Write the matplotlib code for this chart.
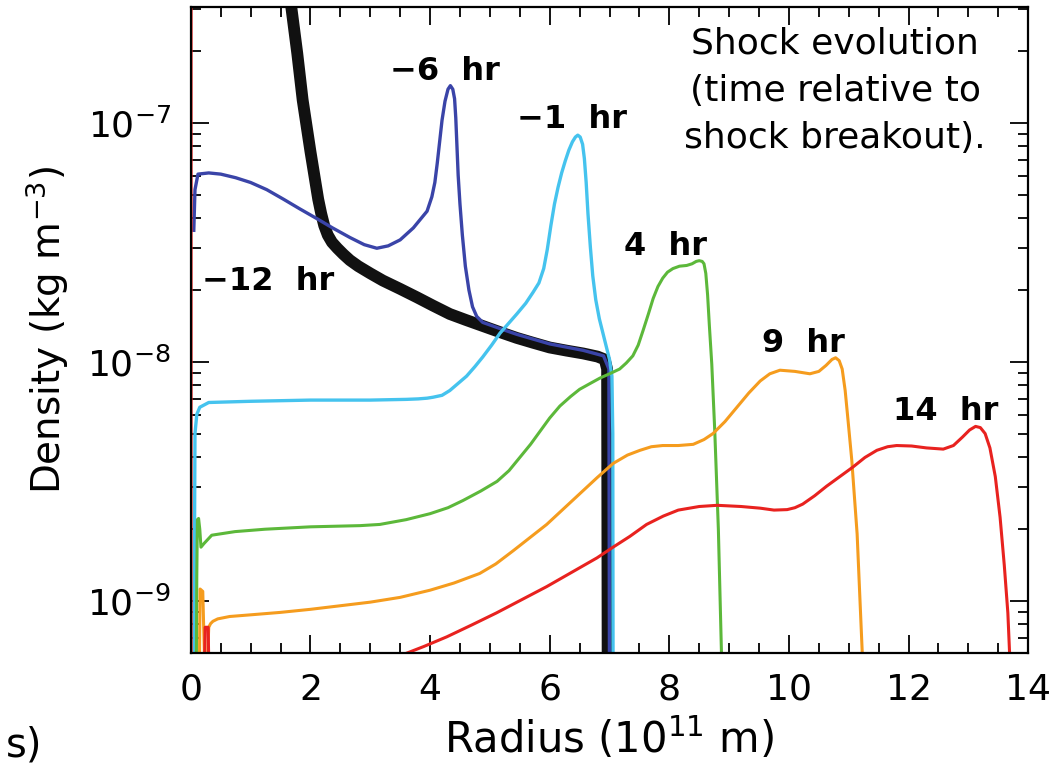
import numpy as np
import matplotlib
matplotlib.use("Agg")
import matplotlib.pyplot as plt
from matplotlib.ticker import FixedLocator, MultipleLocator, NullFormatter, LogFormatterSciNotation

plt.rcParams['font.family'] = ['DejaVu Sans']
plt.rcParams['mathtext.fontset'] = 'dejavusans'

# radius in 1e11 m, density as log10(kg m^-3)
r_m12 = [1.60, 1.68, 1.78, 1.87, 2.00, 2.13, 2.18, 2.23, 2.29, 2.36, 2.45, 2.55, 2.66,
         2.80, 3.00, 3.21, 3.50, 3.78, 4.05, 4.33, 4.60, 4.88, 5.16, 5.45, 5.72, 6.00,
         6.28, 6.56, 6.80, 6.92, 6.96, 6.97]
lg_m12 = [-6.35, -6.516, -6.71, -6.905, -7.12, -7.32, -7.38, -7.43, -7.47, -7.50, -7.525,
          -7.55, -7.575, -7.60, -7.63, -7.66, -7.695, -7.73, -7.765, -7.80, -7.825, -7.85,
          -7.875, -7.90, -7.92, -7.94, -7.953, -7.965, -7.978, -7.99, -8.03, -9.4]

r_m6 = [0.05, 0.07, 0.12, 0.30, 0.50, 0.75, 1.00, 1.27, 1.55, 1.82, 2.10, 2.37, 2.66,
        2.90, 3.11, 3.30, 3.50, 3.72, 3.95, 4.03, 4.08, 4.12, 4.16, 4.20, 4.25, 4.30,
        4.34, 4.38, 4.41, 4.43, 4.45, 4.47, 4.50, 4.54, 4.59, 4.65, 4.71, 4.78, 4.88,
        5.16, 5.45, 6.00, 6.56, 6.90, 6.99, 7.00]
lg_m6 = [-7.45, -7.28, -7.215, -7.21, -7.215, -7.23, -7.25, -7.28, -7.32, -7.36, -7.40,
         -7.44, -7.48, -7.51, -7.525, -7.515, -7.49, -7.44, -7.37, -7.31, -7.25, -7.17,
         -7.08, -6.99, -6.91, -6.86, -6.845, -6.86, -6.90, -6.98, -7.10, -7.22, -7.34,
         -7.47, -7.60, -7.70, -7.77, -7.81, -7.835, -7.86, -7.885, -7.925, -7.952,
         -7.975, -8.03, -9.4]

r_m1 = [0.05, 0.07, 0.10, 0.15, 0.30, 1.0, 2.0, 3.0, 3.6, 3.8, 3.95, 4.05, 4.20, 4.33,
        4.47, 4.61, 4.75, 4.88, 5.03, 5.17, 5.31, 5.45, 5.60, 5.72, 5.82, 5.90, 5.96,
        6.02, 6.08, 6.14, 6.20, 6.26, 6.32, 6.38, 6.43, 6.47, 6.51, 6.55, 6.58, 6.61,
        6.64, 6.68, 6.72, 6.77, 6.83, 6.89, 6.95, 7.00, 7.04, 7.055, 7.06]
lg_m1 = [-9.4, -8.30, -8.22, -8.19, -8.17, -8.165, -8.16, -8.16, -8.157, -8.155, -8.152,
         -8.148, -8.14, -8.12, -8.09, -8.06, -8.02, -7.98, -7.93, -7.88, -7.84, -7.80,
         -7.755, -7.71, -7.67, -7.61, -7.53, -7.43, -7.34, -7.27, -7.21, -7.16, -7.115,
         -7.08, -7.06, -7.052, -7.06, -7.09, -7.15, -7.25, -7.38, -7.52, -7.64, -7.74,
         -7.82, -7.88, -7.94, -7.99, -8.06, -8.3, -9.4]

r_4 = [0.09, 0.10, 0.11, 0.13, 0.15, 0.17, 0.22, 0.35, 0.74, 1.24, 2.0, 2.83, 3.16, 3.6,
       4.0, 4.3, 4.55, 4.85, 5.12, 5.32, 5.50, 5.68, 5.84, 6.00, 6.17, 6.35, 6.50, 6.68,
       6.84, 7.00, 7.17, 7.28, 7.39, 7.48, 7.56, 7.65, 7.73, 7.81, 7.89, 7.97, 8.06,
       8.17, 8.29, 8.38, 8.45, 8.50, 8.55, 8.58, 8.61, 8.64, 8.67, 8.71, 8.76, 8.82,
       8.88]
lg_4 = [-9.4, -8.9, -8.66, -8.655, -8.70, -8.775, -8.76, -8.725, -8.71, -8.70, -8.69,
        -8.685, -8.68, -8.66, -8.635, -8.61, -8.58, -8.54, -8.50, -8.455, -8.40, -8.345,
        -8.29, -8.235, -8.185, -8.145, -8.115, -8.09, -8.068, -8.05, -8.03, -8.005,
        -7.975, -7.93, -7.87, -7.80, -7.735, -7.685, -7.65, -7.625, -7.61, -7.60,
        -7.597, -7.59, -7.58, -7.577, -7.58, -7.59, -7.63, -7.72, -7.85, -8.01, -8.29,
        -8.7, -9.3]

r_9 = [0.14, 0.155, 0.20, 0.235, 0.27, 0.30, 0.33, 0.37, 0.45, 0.65, 1.0, 1.49, 2.0,
       2.5, 3.0, 3.5, 4.0, 4.4, 4.83, 5.1, 5.39, 5.67, 5.95, 6.23, 6.51, 6.79, 7.06, 7.3,
       7.51, 7.7, 7.89, 8.15, 8.40, 8.58, 8.73, 8.93, 9.13, 9.33, 9.52, 9.68, 9.85,
       10.10, 10.35, 10.50, 10.62, 10.72, 10.78, 10.84, 10.89, 10.94, 10.99, 11.05,
       11.14, 11.24]
lg_9 = [-9.4, -8.95, -8.96, -9.3, -9.3, -9.11, -9.095, -9.085, -9.075, -9.065, -9.058,
        -9.048, -9.035, -9.02, -9.005, -8.985, -8.955, -8.925, -8.885, -8.845, -8.79,
        -8.735, -8.68, -8.615, -8.55, -8.485, -8.425, -8.39, -8.37, -8.355, -8.35,
        -8.35, -8.345, -8.325, -8.30, -8.25, -8.19, -8.13, -8.08, -8.05, -8.035, -8.04,
        -8.05, -8.04, -8.015, -7.99, -7.983, -7.995, -8.03, -8.12, -8.25, -8.41, -8.72,
        -9.3]

r_14 = [0.005, 0.005, 0.22, 0.24, 0.29, 0.31, 3.40, 3.49, 3.90, 4.28, 4.70, 5.11, 5.53,
        5.95, 6.23, 6.51, 6.79, 7.06, 7.34, 7.62, 7.90, 8.15, 8.50, 8.80, 9.20, 9.52,
        9.75, 9.97, 10.10, 10.23, 10.43, 10.63, 10.85, 11.07, 11.27, 11.47, 11.65, 11.80,
        12.05, 12.30, 12.58, 12.75, 12.90, 13.02, 13.12, 13.20, 13.28, 13.36, 13.45,
        13.53, 13.60, 13.66, 13.72]
lg_14 = [-6.3, -9.4, -9.4, -9.11, -9.11, -9.4, -9.4, -9.23, -9.19, -9.15, -9.10, -9.05,
         -8.995, -8.94, -8.90, -8.86, -8.82, -8.775, -8.73, -8.68, -8.645, -8.62, -8.605,
         -8.60, -8.605, -8.612, -8.62, -8.618, -8.61, -8.595, -8.56, -8.52, -8.48, -8.44,
         -8.40, -8.37, -8.355, -8.35, -8.352, -8.36, -8.365, -8.35, -8.315, -8.285,
         -8.27, -8.275, -8.30, -8.36, -8.48, -8.65, -8.85, -9.05, -9.4]

labels = ["\u221212  hr", "\u22126  hr", "\u22121  hr", "4  hr", "9  hr", "14  hr"]
label_r = [1.29, 4.25, 6.37, 7.93, 10.25, 12.62]
label_lg = [-7.70, -6.82, -7.022, -7.554, -7.959, -8.244]

y_major = [1e-9, 1e-8, 1e-7]
y_minor = [m * 10.0**e for e in (-10, -9, -8, -7) for m in range(2, 10)]

fig = plt.figure(figsize=(10.6, 7.75), dpi=100)
ax = fig.add_axes([0.180, 0.157, 0.790, 0.834])

ax.plot(r_m12, 10**np.array(lg_m12), color='#111111', lw=8.5, solid_joinstyle='round')
ax.plot(r_m6, 10**np.array(lg_m6), color='#3a44a8', lw=2.4)
ax.plot(r_m1, 10**np.array(lg_m1), color='#45c3ee', lw=2.4)
ax.plot(r_4, 10**np.array(lg_4), color='#5cb83a', lw=2.2)
ax.plot(r_9, 10**np.array(lg_9), color='#f59c1e', lw=2.2)
ax.plot(r_14, 10**np.array(lg_14), color='#e8221f', lw=2.2)

for t, x, y in zip(labels, label_r, label_lg):
    ax.text(x, 10**y, t, ha='center', va='baseline', fontsize=23, fontweight='bold')

ax.set_yscale('log')
ax.set_xlim(0, 14)
ax.set_ylim(10**-9.219, 10**-6.516)
ax.xaxis.set_major_locator(MultipleLocator(2))
ax.xaxis.set_minor_locator(MultipleLocator(0.5))
ax.yaxis.set_major_locator(FixedLocator(y_major))
ax.yaxis.set_major_formatter(LogFormatterSciNotation())
ax.yaxis.set_minor_locator(FixedLocator([v for v in y_minor if 10**-9.219 < v < 10**-6.516]))
ax.yaxis.set_minor_formatter(NullFormatter())
ax.tick_params(which='both', direction='in', top=True, right=True, width=1.3,
               labelsize=26, pad=14)
ax.tick_params(which='major', length=13)
ax.tick_params(which='minor', length=7)
for s in ax.spines.values():
    s.set_linewidth(1.6)

ax.set_xlabel("Radius (10$^{11}$ m)", fontsize=30, labelpad=6)
ax.set_ylabel("Density (kg m$^{-3}$)", fontsize=28, labelpad=12)

fig.text(835 / 1060, 1 - 53 / 775, "Shock evolution", ha='center', va='baseline', fontsize=26)
fig.text(835 / 1060, 1 - 101 / 775, "(time relative to", ha='center', va='baseline', fontsize=26)
fig.text(835 / 1060, 1 - 148 / 775, "shock breakout).", ha='center', va='baseline', fontsize=26)
fig.text(42 / 1060, 1 - 756 / 775, "s)", ha='right', va='baseline', fontsize=29)

fig.savefig("out.png", dpi=100)
